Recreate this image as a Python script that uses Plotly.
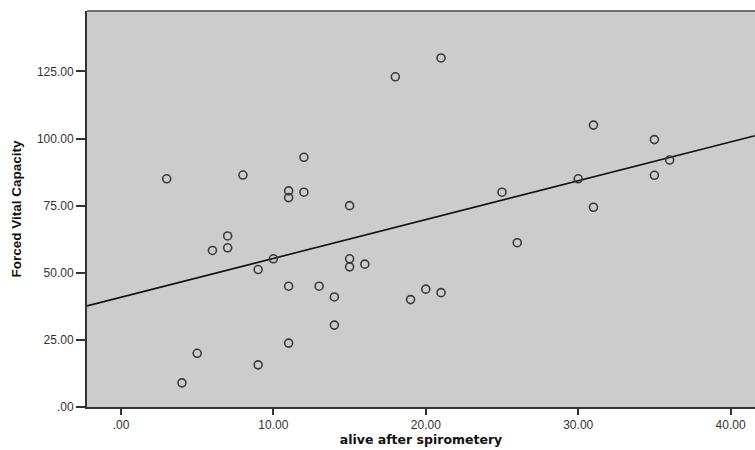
import numpy as np
import plotly.graph_objects as go

# Data
alive_after = [3, 8, 12, 11, 11, 12, 15, 18, 21, 31, 35, 36, 30, 35, 25, 31,
               7, 7, 6, 10, 9, 11, 13, 14, 14, 11, 5, 9, 4, 15, 15, 16,
               26, 20, 21, 19]
fvc = [85, 86.4, 93, 80.5, 78, 80, 75, 123, 130, 105, 99.6, 92, 85, 86.3, 80, 74.4,
       63.7, 59.3, 58.3, 55.2, 51.2, 45, 45, 41, 30.5, 23.8, 20, 15.7, 9, 55.2, 52.2, 53.2,
       61.2, 43.9, 42.6, 40]

x_range = [-2.23, 41.6]
y_range = [0, 147.5]
x_ticks = [0, 10, 20, 30, 40]
x_tick_labels = [".00", "10.00", "20.00", "30.00", "40.00"]
y_ticks = [0, 25, 50, 75, 100, 125]
y_tick_labels = [".00", "25.00", "50.00", "75.00", "100.00", "125.00"]

slope, intercept = np.polyfit(alive_after, fvc, 1)
line_x = np.array(x_range)
line_y = intercept + slope * line_x

fig = go.Figure()
fig.add_trace(go.Scatter(
    x=line_x, y=line_y, mode="lines",
    line=dict(color="#111111", width=1.6),
    hoverinfo="skip", showlegend=False,
))
fig.add_trace(go.Scatter(
    x=alive_after, y=fvc, mode="markers",
    marker=dict(symbol="circle-open", size=8, color="#3a3a3a",
                line=dict(width=1.6, color="#3a3a3a")),
    showlegend=False,
))

fig.add_shape(type="line", xref="paper", yref="paper", x0=0, x1=1, y0=1, y1=1,
              line=dict(color="#6e6e6e", width=2))

fig.update_layout(
    width=755, height=450,
    margin=dict(l=87, r=0, t=11, b=43),
    paper_bgcolor="white",
    plot_bgcolor="#cccccc",
    font=dict(family="Liberation Sans, Arial, sans-serif", size=12, color="#333333"),
)
fig.update_xaxes(
    range=x_range, tickvals=x_ticks, ticktext=x_tick_labels,
    automargin=False,
    showgrid=False, zeroline=False,
    showline=True, linecolor="#333333", linewidth=2,
    ticks="outside", ticklen=6, tickwidth=2, tickcolor="#333333",
    tickfont=dict(size=12, color="#333333"),
    title=dict(text="<b>alive after spirometery</b>",
               font=dict(family="DejaVu Sans, Verdana, sans-serif", size=12.5, color="#111111"),
               standoff=4),
)
fig.update_yaxes(
    range=y_range, tickvals=y_ticks, ticktext=y_tick_labels,
    automargin=False,
    showgrid=False, zeroline=False,
    showline=True, linecolor="#333333", linewidth=2,
    ticks="outside", ticklen=9, tickwidth=2, tickcolor="#333333",
    tickfont=dict(size=12, color="#333333"),
    title=dict(text="<b>Forced Vital Capacity</b>",
               font=dict(family="Liberation Sans Narrow, Liberation Sans, Arial, sans-serif", size=13.5, color="#111111"),
               standoff=12),
)

fig.write_html(
    "out.html",
    config={"displayModeBar": False},
    post_script="document.body.style.margin='0';document.body.style.overflow='hidden';",
)
